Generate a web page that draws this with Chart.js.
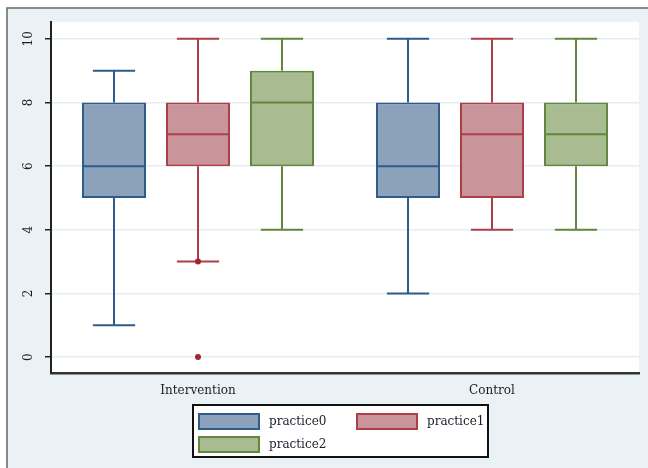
<!DOCTYPE html>
<html>
<head>
<meta charset="utf-8">
<script src="https://cdn.jsdelivr.net/npm/chart.js@4.4.1/dist/chart.umd.min.js"></script>
<style>
  html, body { margin: 0; padding: 0; background: #fff; }
  #wrap { width: 648px; height: 468px; }
</style>
</head>
<body>
<div id="wrap"><canvas id="boxChart" width="648" height="468"></canvas></div>
<script>
// groups on the x axis
const categories = ['Intervention', 'Control'];
const seriesNames = ['practice0', 'practice1', 'practice2'];

// one row per series, one value per category
const lowWhisker  = [[1, 2], [3, 4], [4, 4]];
const lowQuartile = [[5, 5], [6, 5], [6, 6]];
const medians     = [[6, 6], [7, 7], [8, 7]];
const upQuartile  = [[8, 8], [8, 8], [9, 8]];
const upWhisker   = [[9, 10], [10, 10], [10, 10]];
const outliers    = [[[], []], [[3, 0], []], [[], []]];

const yTicks = [0, 2, 4, 6, 8, 10];

const fills   = ['#8ca2ba', '#c9949a', '#a9bc91'];
const borders = ['#2f5b8c', '#ad3f48', '#61873d'];

const serif = '"DejaVu Serif", "Liberation Serif", serif';

const boxParts = {
  id: 'boxParts',
  beforeDraw(chart) {
    const ctx = chart.ctx, a = chart.chartArea;
    ctx.save();
    ctx.fillStyle = '#fff';
    ctx.fillRect(0, 0, chart.width, chart.height);
    ctx.fillStyle = '#eaf2f5';
    ctx.fillRect(7, 8, chart.width, chart.height);
    ctx.strokeStyle = '#666';
    ctx.lineWidth = 1.5;
    ctx.beginPath();
    ctx.moveTo(7, chart.height);
    ctx.lineTo(7, 8);
    ctx.lineTo(chart.width, 8);
    ctx.stroke();
    ctx.fillStyle = '#fff';
    ctx.fillRect(a.left, a.top, a.right - a.left, a.bottom - a.top);
    ctx.restore();
  },
  afterDatasetsDraw(chart) {
    const ctx = chart.ctx, y = chart.scales.y;
    chart.data.datasets.forEach((ds, i) => {
      chart.getDatasetMeta(i).data.forEach((bar, j) => {
        const x = bar.x, w = bar.width, cap = w * 0.33;
        const pLo = y.getPixelForValue(lowWhisker[i][j]);
        const pQ1 = y.getPixelForValue(lowQuartile[i][j]);
        const pMed = y.getPixelForValue(medians[i][j]);
        const pQ3 = y.getPixelForValue(upQuartile[i][j]);
        const pHi = y.getPixelForValue(upWhisker[i][j]);
        ctx.save();
        ctx.strokeStyle = ds.borderColor;
        ctx.lineWidth = 2;
        ctx.beginPath();
        ctx.moveTo(x, pQ3); ctx.lineTo(x, pHi);
        ctx.moveTo(x - cap, pHi); ctx.lineTo(x + cap, pHi);
        ctx.moveTo(x, pQ1); ctx.lineTo(x, pLo);
        ctx.moveTo(x - cap, pLo); ctx.lineTo(x + cap, pLo);
        ctx.moveTo(x - w / 2, pMed); ctx.lineTo(x + w / 2, pMed);
        ctx.stroke();
        ctx.fillStyle = '#a3262f';
        outliers[i][j].forEach(v => {
          ctx.beginPath();
          ctx.arc(x, y.getPixelForValue(v), 3, 0, Math.PI * 2);
          ctx.fill();
        });
        ctx.restore();
      });
    });
  },
  afterDraw(chart) {
    const ctx = chart.ctx, y = chart.scales.y;
    ctx.save();
    // rotated y tick labels
    ctx.fillStyle = '#1c1c2a';
    ctx.font = '12px ' + serif;
    ctx.textAlign = 'center';
    ctx.textBaseline = 'middle';
    yTicks.forEach(v => {
      ctx.save();
      ctx.translate(29, y.getPixelForValue(v));
      ctx.rotate(-Math.PI / 2);
      ctx.fillText(String(v), 0, 0);
      ctx.restore();
    });
    // legend box
    ctx.fillStyle = '#fff';
    ctx.fillRect(193, 405, 295, 52);
    ctx.strokeStyle = '#111';
    ctx.lineWidth = 2;
    ctx.strokeRect(193, 405, 295, 52);
    const spots = [[199, 414], [357, 414], [199, 437]];
    chart.data.datasets.forEach((ds, i) => {
      const [sx, sy] = spots[i];
      ctx.fillStyle = ds.backgroundColor;
      ctx.fillRect(sx, sy, 60, 15);
      ctx.strokeStyle = ds.borderColor;
      ctx.lineWidth = 2;
      ctx.strokeRect(sx, sy, 60, 15);
      ctx.fillStyle = '#1c1c2a';
      ctx.textAlign = 'left';
      ctx.fillText(ds.label, sx + 70, sy + 8);
    });
    ctx.restore();
  }
};

new Chart(document.getElementById('boxChart'), {
  type: 'bar',
  data: {
    labels: categories,
    datasets: seriesNames.map((name, i) => ({
      label: name,
      data: categories.map((c, j) => [lowQuartile[i][j], upQuartile[i][j]]),
      backgroundColor: fills[i],
      borderColor: borders[i],
      borderWidth: 2,
      borderSkipped: false,
      categoryPercentage: 0.857,
      barPercentage: 0.762
    }))
  },
  options: {
    responsive: false,
    animation: false,
    layout: { padding: { top: 22, right: 9, left: 0, bottom: 0 } },
    plugins: { legend: { display: false }, tooltip: { enabled: false } },
    scales: {
      x: {
        grid: { display: false, drawTicks: false },
        border: { display: true, color: '#333', width: 2.5 },
        ticks: { color: '#1c1c2a', font: { family: serif, size: 12 }, padding: 11 },
        afterFit: (s) => { s.height = 95; }
      },
      y: {
        min: -0.5,
        max: 10.53,
        afterBuildTicks: (s) => { s.ticks = yTicks.map(v => ({ value: v })); },
        grid: { color: '#e3eef3', lineWidth: 1.5, tickColor: '#222', tickLength: 6, tickWidth: 1.5 },
        border: { display: true, color: '#222', width: 2 },
        ticks: { display: false },
        afterFit: (s) => { s.width = 51; }
      }
    }
  },
  plugins: [boxParts]
});
</script>
</body>
</html>
